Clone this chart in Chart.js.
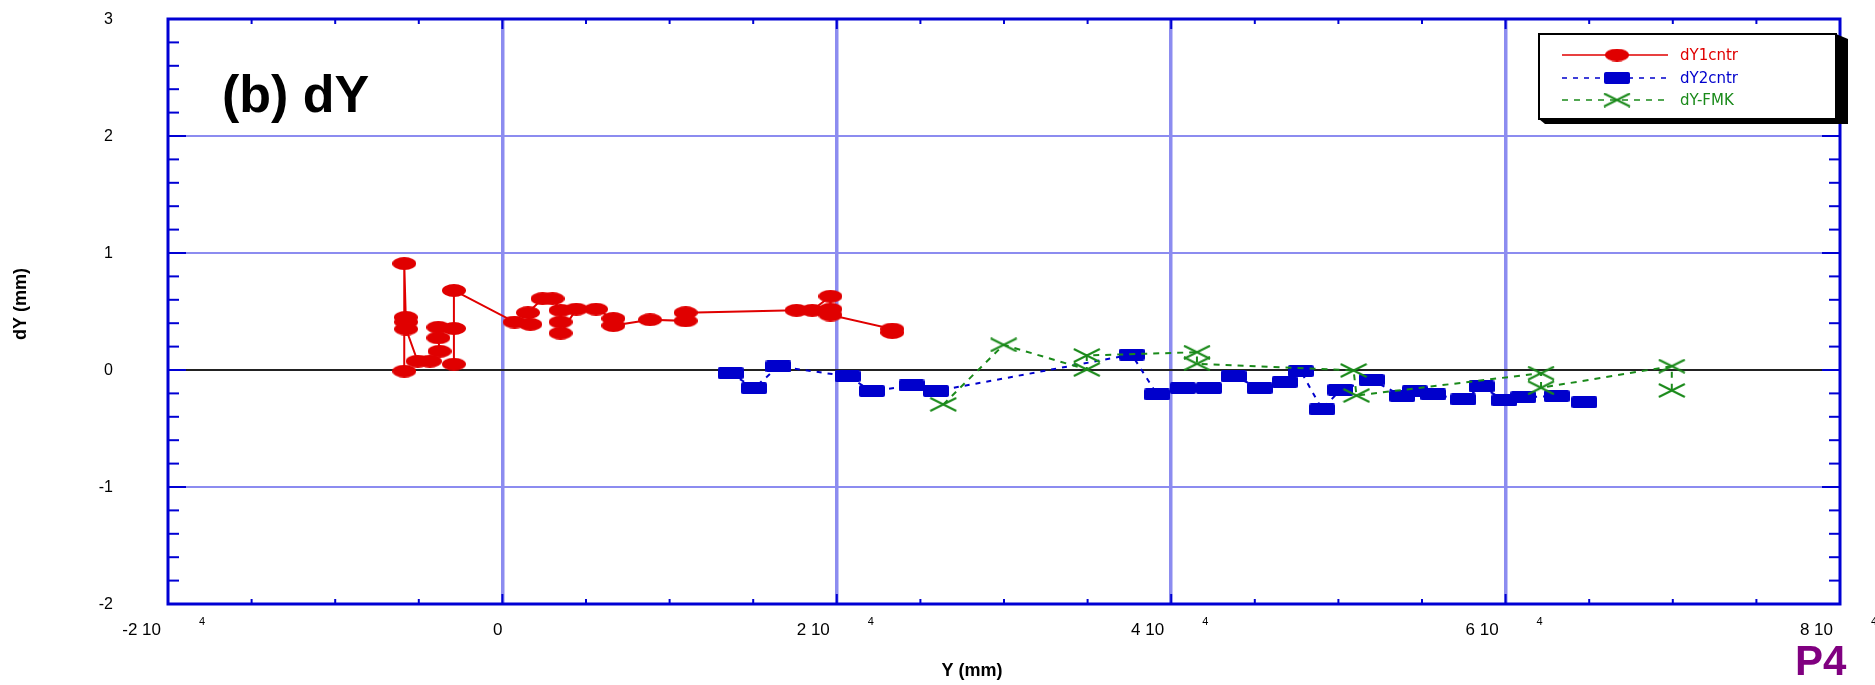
<!DOCTYPE html>
<html>
<head>
<meta charset="utf-8">
<title>dY</title>
<script src="https://cdn.jsdelivr.net/npm/chart.js@4.4.1/dist/chart.umd.min.js"></script>
<style>
  html, body { margin: 0; padding: 0; background: #fff; }
  #wrap { width: 1875px; height: 685px; }
</style>
</head>
<body>
<div id="wrap"><canvas id="mycanvas" width="1875" height="685"></canvas></div>
<script>
// series names
var seriesNames = ['dY1cntr', 'dY2cntr', 'dY-FMK'];

// dY1cntr
var dY1X = [-5870, -5870, -5780, -5760, -5760, -5070, -4340, -3760, -3830, -3830, -2900, -2900, -2900,
            730, 1670, 1530, 2400, 3000, 3480, 3480, 3480, 4420, 5600, 6640, 6640, 8830, 10960, 10960,
            17590, 18530, 19620, 19620, 19620, 23320, 23320];
var dY1Y = [-0.01, 0.91, 0.45, 0.41, 0.35, 0.075, 0.075, 0.16, 0.275, 0.365, 0.355, 0.05, 0.68,
            0.41, 0.39, 0.49, 0.61, 0.61, 0.51, 0.41, 0.315, 0.52, 0.52, 0.44, 0.38, 0.43, 0.42, 0.49,
            0.51, 0.51, 0.63, 0.52, 0.47, 0.35, 0.32];

// dY2cntr
var dY2X = [13650, 15050, 16510, 20640, 22100, 24470, 25930, 37640, 39160, 40700, 42260, 43730, 45290,
            46790, 47750, 49030, 50120, 51980, 53820, 54570, 55670, 57470, 58560, 59920, 61060, 63050, 64710];
var dY2Y = [-0.027, -0.155, 0.03, -0.053, -0.18, -0.132, -0.18, 0.132, -0.209, -0.155, -0.155, -0.053, -0.155,
            -0.104, -0.01, -0.337, -0.169, -0.084, -0.223, -0.181, -0.209, -0.252, -0.141, -0.26, -0.232, -0.223, -0.275];

// dY-FMK
var fmkX = [26370, 29980, 34950, 34950, 41540, 41540, 50910, 51080, 62120, 62120, 69940, 69940];
var fmkY = [-0.294, 0.215, 0.004, 0.124, 0.152, 0.053, -0.004, -0.218, -0.027, -0.152, 0.033, -0.175];

// axis ticks
var xTickValues = [-20000, 0, 20000, 40000, 60000, 80000];
var xTickMantissa = ['-2', '0', '2', '4', '6', '8'];
var xTickExponent = '4';
var yTickValues = [-2, -1, 0, 1, 2, 3];

var RED = '#e00000', BLUE = '#0000cc', GREEN = '#1a8a1a', AXIS = '#0000d4', GRID = '#8c8cf0';

function toPoints(xs, ys) {
    var pts = [];
    for (var i = 0; i < xs.length; i++) pts.push({x: xs[i], y: ys[i]});
    return pts;
}

// marker images
function ellipseMarker(w, h, color) {
    var c = document.createElement('canvas');
    c.width = w; c.height = h;
    var g = c.getContext('2d');
    g.fillStyle = color;
    g.beginPath();
    g.ellipse(w / 2, h / 2, w / 2, h / 2, 0, 0, Math.PI * 2);
    g.fill();
    return c;
}
function rectMarker(w, h, r, color) {
    var c = document.createElement('canvas');
    c.width = w; c.height = h;
    var g = c.getContext('2d');
    g.fillStyle = color;
    g.beginPath();
    g.moveTo(r, 0); g.lineTo(w - r, 0); g.quadraticCurveTo(w, 0, w, r);
    g.lineTo(w, h - r); g.quadraticCurveTo(w, h, w - r, h);
    g.lineTo(r, h); g.quadraticCurveTo(0, h, 0, h - r);
    g.lineTo(0, r); g.quadraticCurveTo(0, 0, r, 0);
    g.fill();
    return c;
}
function crossMarker(w, h, color) {
    var c = document.createElement('canvas');
    c.width = w; c.height = h;
    var g = c.getContext('2d');
    g.strokeStyle = color;
    g.lineWidth = 2;
    g.beginPath();
    g.moveTo(1, 1); g.lineTo(w - 1, h - 1);
    g.moveTo(w - 1, 1); g.lineTo(1, h - 1);
    g.stroke();
    return c;
}

var redMark = ellipseMarker(24, 13, RED);
var blueMark = rectMarker(26, 12, 2, BLUE);
var greenMark = crossMarker(28, 15, GREEN);

var seriesColors = [RED, BLUE, GREEN];
var seriesMarks = [redMark, blueMark, greenMark];
var seriesDash = [[], [5, 6], [6, 6]];

function hline(ctx, x1, y1, x2, y2) {
    ctx.beginPath(); ctx.moveTo(x1, y1); ctx.lineTo(x2, y2); ctx.stroke();
}

var decor = {
    id: 'decor',
    beforeDatasetsDraw: function(chart) {
        var ctx = chart.ctx, a = chart.chartArea, y = chart.scales.y;
        var y0 = y.getPixelForValue(0);
        ctx.save();
        ctx.strokeStyle = '#222';
        ctx.lineWidth = 2;
        hline(ctx, a.left, y0, a.right, y0);
        ctx.restore();
    },
    afterDatasetsDraw: function(chart) {
        var ctx = chart.ctx, a = chart.chartArea, x = chart.scales.x, y = chart.scales.y;
        ctx.save();
        // ticks
        ctx.strokeStyle = AXIS;
        ctx.lineWidth = 2;
        for (var i = 0; i <= 25; i++) {
            var py = y.getPixelForValue(-2 + i * 0.2);
            var len = (i % 5 === 0) ? 18 : 11;
            hline(ctx, a.left, py, a.left + len, py);
            hline(ctx, a.right - len, py, a.right, py);
        }
        for (var j = 0; j <= 20; j++) {
            var px = x.getPixelForValue(-20000 + j * 5000);
            var l2 = (j % 4 === 0) ? 10 : 5;
            hline(ctx, px, a.bottom, px, a.bottom - l2);
            hline(ctx, px, a.top, px, a.top + l2);
        }
        // frame
        ctx.lineWidth = 3;
        ctx.strokeRect(a.left, a.top, a.right - a.left, a.bottom - a.top);

        // y tick labels
        ctx.fillStyle = '#000';
        ctx.font = '16px "Liberation Sans", Arial, sans-serif';
        ctx.textAlign = 'right';
        ctx.textBaseline = 'middle';
        yTickValues.forEach(function(v) {
            ctx.fillText(String(v), 113, y.getPixelForValue(v) + 1);
        });

        // x tick labels with exponent
        ctx.textBaseline = 'alphabetic';
        xTickValues.forEach(function(v, k) {
            var px = x.getPixelForValue(v);
            ctx.font = '17px "Liberation Sans", Arial, sans-serif';
            ctx.textAlign = 'right';
            if (v === 0) {
                ctx.fillText(xTickMantissa[k], px, 635);
                return;
            }
            ctx.fillText(xTickMantissa[k] + ' 10', px - 7, 635);
            ctx.font = '11px "Liberation Sans", Arial, sans-serif';
            ctx.textAlign = 'left';
            ctx.fillText(xTickExponent, px + 31, 625);
        });

        // axis titles
        ctx.font = 'bold 18px "Liberation Sans", Arial, sans-serif';
        ctx.textAlign = 'center';
        ctx.fillText('Y (mm)', 972, 676);
        ctx.save();
        ctx.translate(26, 304);
        ctx.rotate(-Math.PI / 2);
        ctx.textBaseline = 'alphabetic';
        ctx.fillText('dY (mm)', 0, 0);
        ctx.restore();

        // panel title
        ctx.font = 'bold 52px "Liberation Sans", Arial, sans-serif';
        ctx.textAlign = 'left';
        ctx.fillText('(b) dY', 222, 112);

        // P4
        ctx.fillStyle = '#800080';
        ctx.font = 'bold 42px "Liberation Sans", Arial, sans-serif';
        ctx.fillText('P4', 1795, 675);

        // legend box
        var bx1 = 1539, by1 = 34, bx2 = 1836, by2 = 119;
        ctx.fillStyle = '#000';
        ctx.beginPath();
        ctx.moveTo(bx2, by1); ctx.lineTo(bx2 + 12, by1 + 5); ctx.lineTo(bx2 + 12, by2 + 5);
        ctx.lineTo(bx1 + 6, by2 + 5); ctx.lineTo(bx1, by2); ctx.closePath();
        ctx.fill();
        ctx.fillStyle = '#fff';
        ctx.fillRect(bx1, by1, bx2 - bx1, by2 - by1);
        ctx.strokeStyle = '#000';
        ctx.lineWidth = 2;
        ctx.strokeRect(bx1, by1, bx2 - bx1, by2 - by1);

        var rows = [55, 78, 100];
        ctx.font = '15px "DejaVu Sans", sans-serif';
        ctx.textBaseline = 'middle';
        ctx.textAlign = 'left';
        for (var s = 0; s < 3; s++) {
            var ry = rows[s];
            ctx.strokeStyle = seriesColors[s];
            ctx.lineWidth = 1.5;
            ctx.setLineDash(seriesDash[s]);
            hline(ctx, 1562, ry, 1668, ry);
            ctx.setLineDash([]);
            var m = seriesMarks[s];
            ctx.drawImage(m, 1617 - m.width / 2, ry - m.height / 2);
            ctx.fillStyle = seriesColors[s];
            ctx.fillText(seriesNames[s], 1680, ry + 1);
        }
        ctx.restore();
    }
};

var chrt = document.getElementById('mycanvas').getContext('2d');
var myChart = new Chart(chrt, {
    type: 'scatter',
    data: {
        datasets: [{
            label: seriesNames[0],
            data: toPoints(dY1X, dY1Y),
            showLine: true,
            borderColor: RED,
            borderWidth: 2,
            pointStyle: redMark,
            order: 0
        }, {
            label: seriesNames[1],
            data: toPoints(dY2X, dY2Y),
            showLine: true,
            borderColor: BLUE,
            borderWidth: 2,
            borderDash: seriesDash[1],
            pointStyle: blueMark,
            order: 2
        }, {
            label: seriesNames[2],
            data: toPoints(fmkX, fmkY),
            showLine: true,
            borderColor: GREEN,
            borderWidth: 2,
            borderDash: seriesDash[2],
            pointStyle: greenMark,
            order: 1
        }]
    },
    options: {
        responsive: false,
        animation: false,
        devicePixelRatio: 1,
        layout: { padding: { left: 168, right: 35, top: 19, bottom: 81 } },
        plugins: { legend: { display: false }, tooltip: { enabled: false } },
        scales: {
            x: {
                type: 'linear', min: -20000, max: 80000,
                ticks: { display: false, stepSize: 20000 },
                border: { display: false },
                grid: {
                    drawTicks: false, lineWidth: 3.5,
                    color: function(c) { return (c.tick && (c.tick.value === -20000 || c.tick.value === 80000)) ? 'rgba(0,0,0,0)' : GRID; }
                }
            },
            y: {
                type: 'linear', min: -2, max: 3,
                ticks: { display: false, stepSize: 1 },
                border: { display: false },
                grid: {
                    drawTicks: false, lineWidth: 2,
                    color: function(c) { var v = c.tick ? c.tick.value : null; return (v === -2 || v === 3 || v === 0) ? 'rgba(0,0,0,0)' : GRID; }
                }
            }
        }
    },
    plugins: [decor]
});
</script>
</body>
</html>
